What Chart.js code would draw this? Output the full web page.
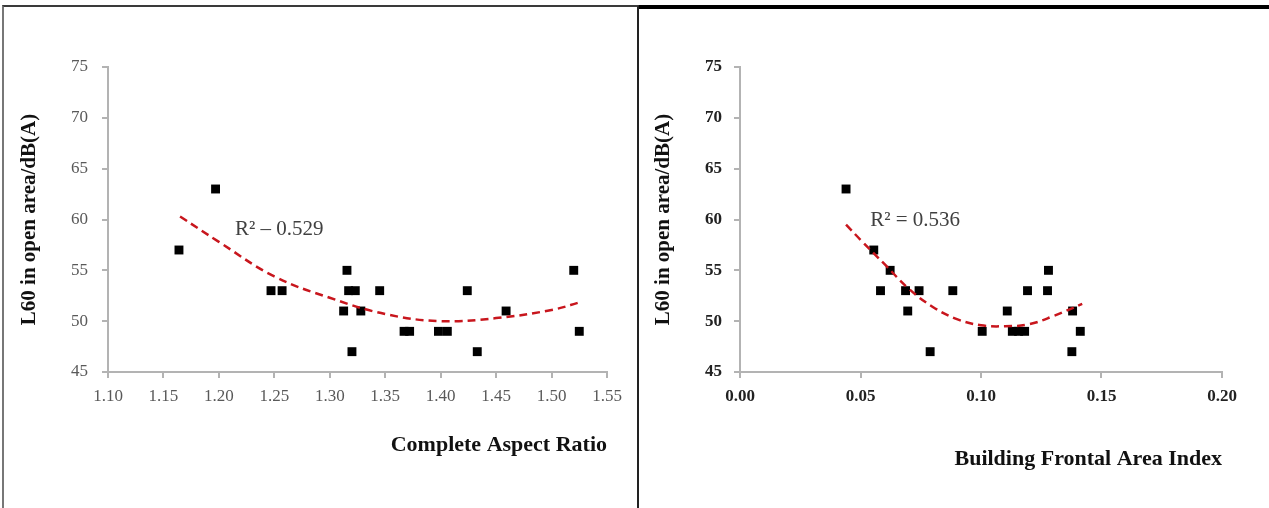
<!DOCTYPE html>
<html>
<head>
<meta charset="utf-8">
<script src="https://cdn.jsdelivr.net/npm/chart.js@4"></script>
<style>
  body { margin: 0; background: #fff; width: 1269px; height: 508px; overflow: hidden; position: relative; }
  .frame { position: absolute; box-sizing: border-box; }
  #frameA { left: 2px; top: 5px; width: 637px; height: 503px; border-top: 2px solid #3a3a3a; border-left: 2px solid #777; border-right: 2px solid #222; }
  #frameB { left: 639px; top: 5px; width: 630px; height: 503px; border-top: 4px solid #000; }
  canvas { position: absolute; top: 0; }
  #chartA { left: 0; }
  #chartB { left: 638px; }
</style>
</head>
<body>
<div class="frame" id="frameA"></div>
<div class="frame" id="frameB"></div>
<canvas id="chartA" width="636" height="508"></canvas>
<canvas id="chartB" width="631" height="508"></canvas>
<script>
// left panel: complete aspect ratio
const aspectRatio = [1.164, 1.197, 1.247, 1.257, 1.3155, 1.3125, 1.317, 1.323, 1.320, 1.328,
                     1.345, 1.367, 1.372, 1.398, 1.406, 1.424, 1.433, 1.459, 1.520, 1.525];
const noiseA = [57, 63, 53, 53, 55, 51, 53, 53, 47, 51, 53, 49, 49, 49, 49, 53, 47, 51, 55, 49];
const trendAX = [1.165, 1.20, 1.25, 1.30, 1.35, 1.40, 1.45, 1.50, 1.527];
const trendAY = [60.3, 57.8, 54.4, 52.3, 50.7, 50.0, 50.3, 51.1, 51.9];
const xTicksA = [1.10, 1.15, 1.20, 1.25, 1.30, 1.35, 1.40, 1.45, 1.50, 1.55];

// right panel: building frontal area index
const frontalIndex = [0.0440, 0.0555, 0.0583, 0.0623, 0.0687, 0.0696, 0.0743, 0.0789, 0.0883, 0.1005,
                      0.1109, 0.1130, 0.1156, 0.1181, 0.1193, 0.1276, 0.1280, 0.1380, 0.1377, 0.1412];
const noiseB = [63, 57, 53, 55, 53, 51, 53, 47, 53, 49, 51, 49, 49, 49, 53, 53, 55, 51, 47, 49];
const trendBX = [0.044, 0.050, 0.060, 0.070, 0.080, 0.090, 0.100, 0.110, 0.120, 0.130, 0.142];
const trendBY = [59.5, 58.0, 55.6, 53.2, 51.4, 50.2, 49.6, 49.5, 49.7, 50.5, 51.7];
const xTicksB = [0.00, 0.05, 0.10, 0.15, 0.20];

const yTicks = [45, 50, 55, 60, 65, 70, 75];
const yTitle = 'L60 in open area/dB(A)';

Chart.defaults.font.family = '"Liberation Serif", "Times New Roman", serif';

const r2Label = {
  id: 'r2Label',
  afterDatasetsDraw(chart, args, opts) {
    const { ctx, scales: { x, y } } = chart;
    ctx.save();
    ctx.font = '21px "Liberation Serif", serif';
    ctx.fillStyle = '#404040';
    ctx.textAlign = 'left';
    ctx.textBaseline = 'middle';
    ctx.fillText(opts.text, x.getPixelForValue(opts.x), y.getPixelForValue(opts.y));
    ctx.restore();
  }
};

function pairs(xs, ys) {
  return xs.map((v, i) => ({ x: v, y: ys[i] }));
}

function makeChart(id, s) {
  return new Chart(document.getElementById(id), {
    type: 'scatter',
    data: {
      datasets: [
        {
          data: pairs(s.trendX, s.trendY),
          showLine: true,
          pointRadius: 0,
          borderColor: '#c8161d',
          borderWidth: 2.5,
          borderDash: [8, 5],
          tension: 0.4,
          fill: false
        },
        {
          data: pairs(s.x, s.y),
          pointStyle: 'rect',
          pointRadius: 6.3,
          backgroundColor: '#000',
          borderColor: '#000',
          borderWidth: 0
        }
      ]
    },
    options: {
      responsive: false,
      animation: false,
      events: [],
      layout: { padding: { left: 10, right: s.padRight, top: 67, bottom: 0 } },
      plugins: {
        legend: { display: false },
        tooltip: { enabled: false },
        r2Label: s.label
      },
      scales: {
        x: {
          type: 'linear',
          min: s.ticks[0],
          max: s.ticks[s.ticks.length - 1],
          afterBuildTicks: axis => { axis.ticks = s.ticks.map(v => ({ value: v })); },
          afterFit: axis => { axis.height = 136; },
          border: { color: '#b3b3b3', width: 2 },
          grid: { drawOnChartArea: false, drawTicks: true, tickLength: 6, color: '#b3b3b3', lineWidth: 2 },
          ticks: {
            padding: 8,
            maxRotation: 0,
            autoSkip: false,
            color: s.tickColor,
            font: { size: 17, weight: s.tickWeight },
            callback: v => v.toFixed(2)
          },
          title: {
            display: true,
            text: s.xTitle,
            align: 'end',
            color: '#111',
            font: { size: 22, weight: 'bold' },
            padding: { top: 0, bottom: s.xTitlePad }
          }
        },
        y: {
          min: 45,
          max: 75,
          afterBuildTicks: axis => { axis.ticks = yTicks.map(v => ({ value: v })); },
          afterFit: axis => { axis.width = s.yWidth; },
          border: { color: '#b3b3b3', width: 2 },
          grid: { drawOnChartArea: false, drawTicks: true, tickLength: 6, color: '#b3b3b3', lineWidth: 2 },
          ticks: {
            padding: s.yTickPad,
            color: s.tickColor,
            font: { size: 17, weight: s.tickWeight }
          },
          title: {
            display: true,
            text: yTitle,
            color: '#111',
            font: { size: 21, weight: 'bold' },
            padding: { top: s.yTitlePad, bottom: 0 }
          }
        }
      }
    },
    plugins: [r2Label]
  });
}

makeChart('chartA', {
  x: aspectRatio, y: noiseA, trendX: trendAX, trendY: trendAY, ticks: xTicksA,
  xTitle: 'Complete Aspect Ratio',
  label: { text: 'R² – 0.529', x: 1.2145, y: 59.0 },
  padRight: 29, yWidth: 98, yTickPad: 14, yTitlePad: 7, xTitlePad: 49,
  tickColor: '#595959', tickWeight: 'normal'
});

makeChart('chartB', {
  x: frontalIndex, y: noiseB, trendX: trendBX, trendY: trendBY, ticks: xTicksB,
  xTitle: 'Building Frontal Area Index',
  label: { text: 'R² = 0.536', x: 0.054, y: 59.9 },
  padRight: 47, yWidth: 92, yTickPad: 12, yTitlePad: 3, xTitlePad: 35,
  tickColor: '#222', tickWeight: 'bold'
});
</script>
</body>
</html>
